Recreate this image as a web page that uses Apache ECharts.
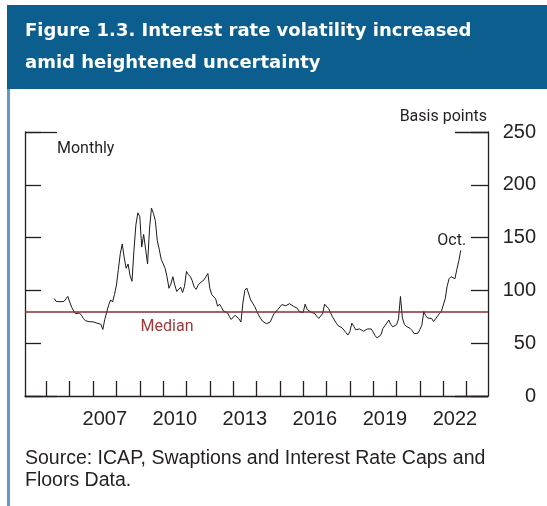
<!DOCTYPE html>
<html>
<head>
<meta charset="utf-8">
<script src="https://cdn.jsdelivr.net/npm/echarts@6/dist/echarts.min.js"></script>
<style>
  html, body { margin: 0; padding: 0; background: #fff; }
  #chart { width: 547px; height: 506px; }
</style>
</head>
<body>
<div id="chart"></div>
<script>
// monthly interest rate volatility, basis points (May 2005 - Oct 2022)
var vol2005 = [92.4, 89.6, 89.5, 89.3, 88.5, 89.5, 91, 94.3];
var vol2006 = [89, 84, 80.5, 78, 79, 78.5, 76.5, 73.5, 71.3, 70.8, 70.4, 70];
var vol2007 = [70.2, 71.3, 69, 69.5, 68, 63, 72.5, 79.5, 86, 91, 89, 96];
var vol2008 = [105, 120, 135, 144, 131, 121, 125, 114, 108.6, 138, 162, 173.5];
var vol2009 = [170, 141, 153, 139, 125, 158, 178, 173, 166, 147, 139, 129.5];
var vol2010 = [129, 121, 113, 102, 106, 113, 105, 99, 97.5, 103, 98, 104];
var vol2011 = [118, 115, 113, 109, 103, 101, 105, 107, 108.5, 110, 113, 116];
var vol2012 = [102, 96, 97.5, 92, 85, 87, 84, 80.5, 82, 79, 75.5, 72.5];
var vol2013 = [73.5, 76.5, 75, 73, 70, 88, 100, 102.3, 102, 91, 88, 85];
var vol2014 = [81, 77, 73.8, 71, 70, 68.5, 67.5, 70, 74, 78, 78, 82];
var vol2015 = [82, 86.5, 88, 85.5, 84.5, 87.4, 85.8, 85, 84.5, 83, 80, 78.6];
var vol2016 = [79, 87, 82, 80.5, 79.5, 79, 78, 75.5, 73.5, 72.5, 78, 87];
var vol2017 = [86, 83, 79, 75, 72, 69, 66.5, 65.3, 64.5, 63, 60, 57.7];
var vol2018 = [61, 69, 66, 62.7, 64.3, 63.5, 62, 61.3, 62, 63.5, 64.3, 63.5];
var vol2019 = [60.5, 57, 55, 55, 58, 64, 63, 69, 72, 68, 65.5, 65];
var vol2020 = [67.5, 73, 94.3, 74, 68, 66, 65, 64, 62, 59, 57.5, 59.5];
var vol2021 = [63, 67, 80, 76, 73.8, 72, 73.5, 70.6, 73, 75.5, 78, 80];
var vol2022 = [81.5, 92, 104, 111, 113, 112, 111, 120, 128, 138];

var medianValue = 80;
var yearLabels = ['2007', '2010', '2013', '2016', '2019', '2022'];

// axis runs Feb 2004 .. Dec 2023, data starts May 2005
var firstYear = 2004, firstMonth = 2, lastYear = 2023, lastMonth = 12;
var months = [];
for (var y = firstYear; y <= lastYear; y++) {
    for (var m = 1; m <= 12; m++) {
        if (y === firstYear && m < firstMonth) continue;
        if (y === lastYear && m > lastMonth) continue;
        months.push(y + '-' + (m < 10 ? '0' + m : '' + m));
    }
}

var values = [].concat(vol2005, vol2006, vol2007, vol2008, vol2009, vol2010, vol2011,
    vol2012, vol2013, vol2014, vol2015, vol2016, vol2017, vol2018, vol2019, vol2020,
    vol2021, vol2022);
var startIdx = months.indexOf('2005-05');
var seriesData = months.map(function (c, i) {
    var k = i - startIdx;
    return (k >= 0 && k < values.length) ? values[k] : null;
});
var lastCat = months[startIdx + values.length - 1];

var axisColor = '#231f20';
var textFont = 'Roboto, "Liberation Sans", sans-serif';

var chart = echarts.init(document.getElementById('chart'));

var option = {
    animation: false,
    grid: { left: 25, right: 59, top: 132, bottom: 110 },
    graphic: [
        { type: 'rect', shape: { x: 7, y: 5, width: 3, height: 501 }, style: { fill: '#5b9bc8' } },
        { type: 'rect', shape: { x: 7, y: 5, width: 540, height: 84 }, style: { fill: '#0c5e8e' } },
        { type: 'text', style: { x: 25, y: 31, text: 'Figure 1.3. Interest rate volatility increased',
            fill: '#fff', font: 'bold 18px "DejaVu Sans"', verticalAlign: 'middle' } },
        { type: 'text', style: { x: 25, y: 63, text: 'amid heightened uncertainty',
            fill: '#fff', font: 'bold 18px "DejaVu Sans"', verticalAlign: 'middle' } },
        { type: 'text', style: { x: 57, y: 149, text: 'Monthly',
            fill: axisColor, font: '16px ' + textFont, verticalAlign: 'middle' } },
        { type: 'text', style: { x: 487, y: 117, text: 'Basis points', align: 'right',
            fill: axisColor, font: '16px ' + textFont, verticalAlign: 'middle' } },
        { type: 'text', style: { x: 25, y: 459, text: 'Source: ICAP, Swaptions and Interest Rate Caps and',
            fill: axisColor, font: '19.5px "Liberation Sans"', verticalAlign: 'middle' } },
        { type: 'text', style: { x: 25, y: 481, text: 'Floors Data.',
            fill: axisColor, font: '19.5px "Liberation Sans"', verticalAlign: 'middle' } }
    ],
    xAxis: {
        type: 'category',
        data: months,
        boundaryGap: false,
        axisLine: { lineStyle: { color: axisColor, width: 1.3 } },
        axisTick: {
            inside: true, length: 15,
            lineStyle: { color: axisColor, width: 1.3 },
            interval: function (i, v) { return v.slice(5) === '01'; }
        },
        axisLabel: {
            margin: 13, fontSize: 20, color: axisColor, fontFamily: 'Liberation Sans',
            interval: function (i, v) { return v.slice(5) === '07' && yearLabels.indexOf(v.slice(0, 4)) >= 0; },
            formatter: function (v) { return v.slice(0, 4); }
        },
        splitLine: { show: false }
    },
    yAxis: [
        {
            type: 'value', position: 'right', min: 0, max: 250, interval: 50,
            axisLine: { show: true, lineStyle: { color: axisColor, width: 1.3 } },
            axisTick: { show: true, inside: true, length: 17, lineStyle: { color: axisColor, width: 1.3 } },
            axisLabel: { margin: 48, align: 'right', fontSize: 20, color: axisColor, fontFamily: 'Liberation Sans' },
            splitLine: { show: false }
        },
        {
            type: 'value', position: 'left', min: 0, max: 250, interval: 50,
            axisLine: { show: true, lineStyle: { color: axisColor, width: 1.3 } },
            axisTick: { show: true, inside: true, length: 16, lineStyle: { color: axisColor, width: 1.3 } },
            axisLabel: { show: false },
            splitLine: { show: false }
        },
        {
            type: 'value', position: 'right', min: 0, max: 250, interval: 250,
            axisLine: { show: false },
            axisTick: { show: true, inside: true, length: 33, lineStyle: { color: axisColor, width: 1.3 } },
            axisLabel: { show: false },
            splitLine: { show: false }
        },
        {
            type: 'value', position: 'left', min: 0, max: 250, interval: 250,
            axisLine: { show: false },
            axisTick: { show: true, inside: true, length: 32, lineStyle: { color: axisColor, width: 1.3 } },
            axisLabel: { show: false },
            splitLine: { show: false }
        }
    ],
    series: [
        {
            type: 'line',
            data: seriesData,
            yAxisIndex: 0,
            symbol: 'none',
            connectNulls: false,
            lineStyle: { color: '#1a1a1a', width: 1 },
            markLine: {
                silent: true,
                symbol: 'none',
                label: { show: false },
                lineStyle: { color: '#8b2c2c', width: 1.6, type: 'solid' },
                data: [{ yAxis: medianValue }]
            },
            markPoint: {
                silent: true,
                symbolSize: 0,
                data: [
                    {
                        coord: ['2010-03', medianValue],
                        label: { show: true, formatter: 'Median', position: 'inside', offset: [0, 15],
                            color: '#9a3b3b', fontSize: 16, fontFamily: textFont }
                    },
                    {
                        coord: [lastCat, values[values.length - 1]],
                        label: { show: true, formatter: 'Oct.', position: 'inside', offset: [-9, -9],
                            color: axisColor, fontSize: 16, fontFamily: textFont }
                    }
                ]
            }
        }
    ]
};

chart.setOption(option);
</script>
</body>
</html>
